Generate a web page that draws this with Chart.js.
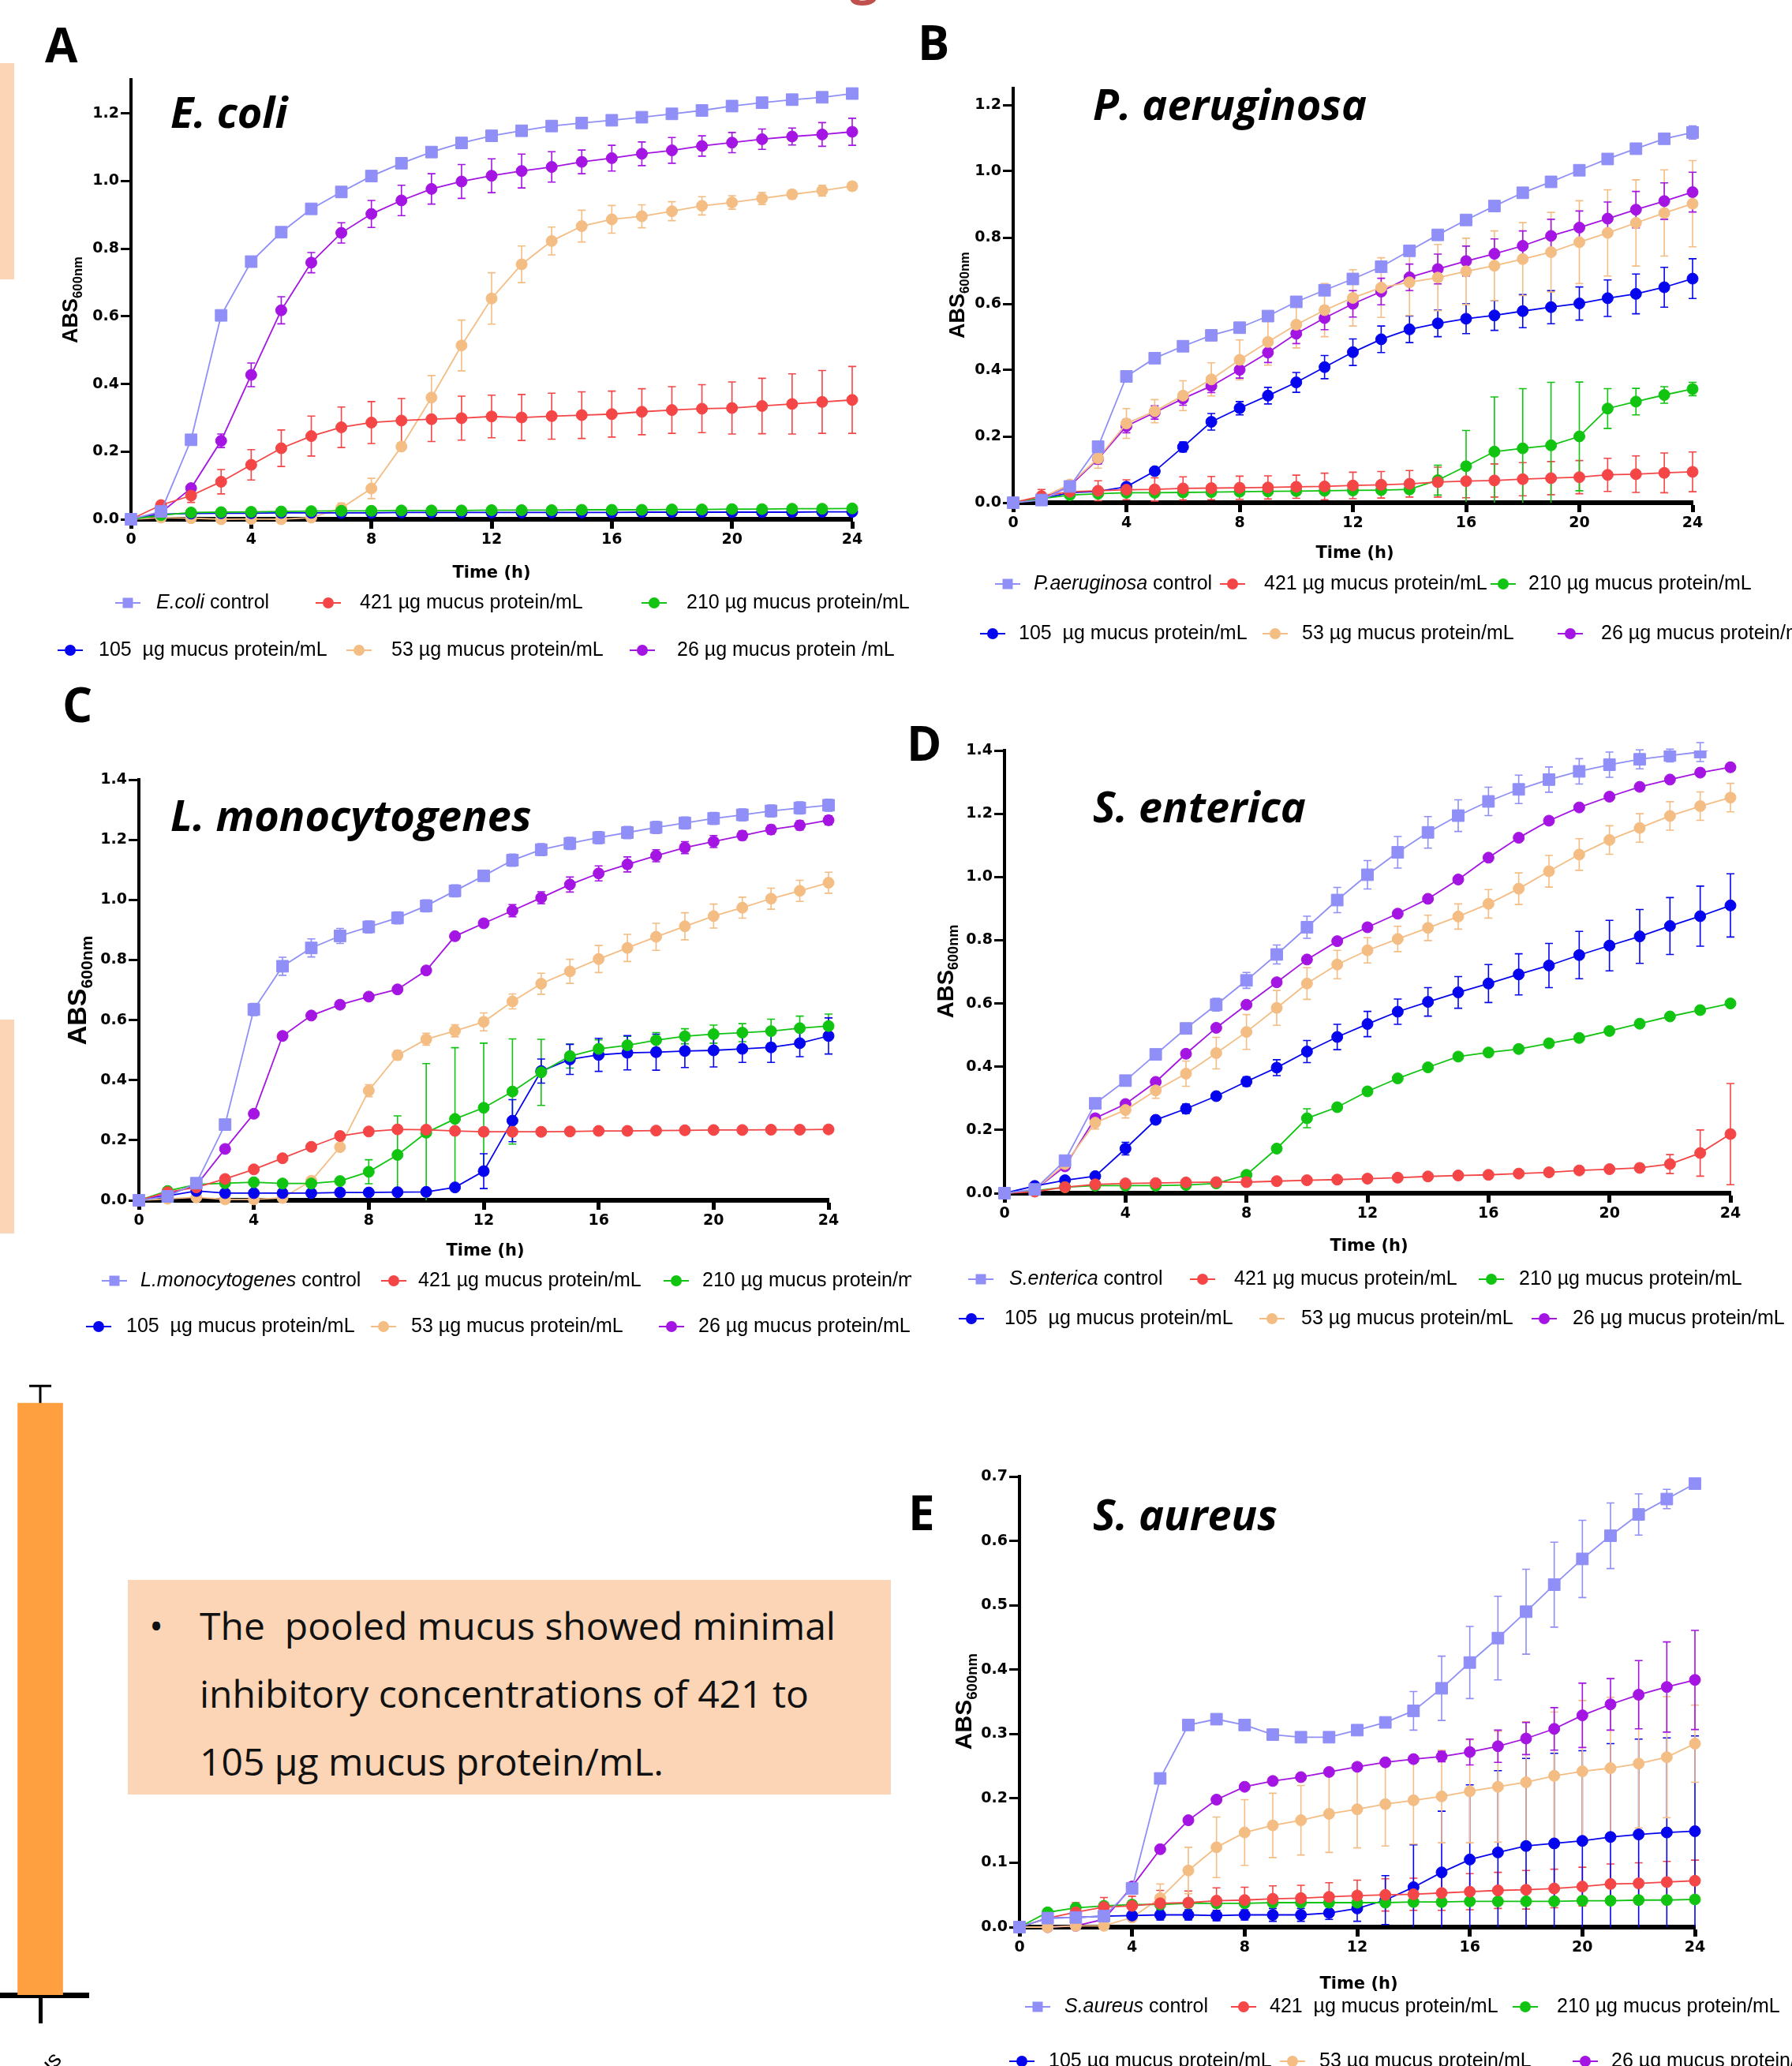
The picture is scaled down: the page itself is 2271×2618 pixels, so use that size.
<!DOCTYPE html>
<html>
<head>
<meta charset="utf-8">
<script src="https://cdn.jsdelivr.net/npm/chart.js"></script>
<style>
body{margin:0;width:2271px;height:2618px;position:relative;overflow:hidden;background:#fff;font-family:"Open Sans",sans-serif;}
canvas{position:absolute;}
.peach{position:absolute;background:#fbd5b5;}
#note{position:absolute;left:162px;top:2002px;width:967px;height:272px;background:#fbd5b5;}
#note div{position:absolute;font-size:48px;line-height:86px;white-space:pre;color:#111;}
#redg{position:absolute;left:1077px;top:-65px;font:bold 64px/64px "Open Sans",sans-serif;color:#c0504d;}
</style>
</head>
<body>
<div class="peach" style="left:0;top:80px;width:18px;height:274px"></div>
<div class="peach" style="left:0;top:1292px;width:18px;height:271px"></div>
<div id="redg">g</div>
<div id="note">
  <div style="left:27px;top:15px">•</div>
  <div style="left:91px;top:15px">The  pooled mucus showed minimal</div>
  <div style="left:91px;top:101px">inhibitory concentrations of 421 to</div>
  <div style="left:91px;top:187px">105 µg mucus protein/mL.</div>
</div>
<canvas id="cA"></canvas>
<canvas id="cB"></canvas>
<canvas id="cC"></canvas>
<canvas id="cD"></canvas>
<canvas id="cE"></canvas>
<canvas id="cBar"></canvas>
<script>
// time points (h)
const hours = [0,1,2,3,4,5,6,7,8,9,10,11,12,13,14,15,16,17,18,19,20,21,22,23,24];

// A: E. coli
const ecoliCtrl = [0,0.023,0.235,0.603,0.762,0.849,0.918,0.968,1.015,1.053,1.086,1.113,1.134,1.149,1.163,1.172,1.180,1.189,1.199,1.209,1.222,1.232,1.241,1.248,1.259];
const ecoliCtrlErr = [0,0,0.005,0.005,0.01,0.005,0.005,0.005,0.005,0.005,0.005,0.005,0.005,0.005,0.005,0.005,0.005,0.005,0.005,0.005,0.005,0.005,0.005,0.005,0.005];
const ecoli421 = [0,0.042,0.070,0.111,0.161,0.210,0.246,0.272,0.286,0.292,0.296,0.299,0.304,0.301,0.305,0.308,0.311,0.318,0.323,0.327,0.329,0.335,0.341,0.347,0.353];
const ecoli421Err = [0,0.005,0.02,0.036,0.045,0.054,0.059,0.06,0.062,0.065,0.066,0.065,0.063,0.068,0.068,0.069,0.068,0.068,0.069,0.071,0.077,0.082,0.089,0.093,0.099];
const ecoli210 = [0,0.012,0.020,0.021,0.022,0.023,0.024,0.025,0.025,0.026,0.026,0.026,0.027,0.027,0.027,0.028,0.028,0.028,0.029,0.029,0.030,0.030,0.031,0.031,0.032];
const ecoli105 = [0,0.015,0.017,0.018,0.018,0.019,0.019,0.019,0.019,0.020,0.020,0.020,0.020,0.020,0.020,0.020,0.020,0.021,0.021,0.021,0.021,0.021,0.021,0.022,0.022];
const ecoli53 = [0,0.005,0.003,0.000,0.001,0.000,0.005,0.033,0.091,0.215,0.360,0.514,0.653,0.754,0.823,0.867,0.887,0.896,0.911,0.927,0.937,0.949,0.961,0.972,0.985];
const ecoli53Err = [0,0,0,0,0,0,0.005,0.015,0.03,0.01,0.065,0.075,0.076,0.054,0.041,0.047,0.041,0.034,0.028,0.027,0.02,0.018,0.013,0.016,0.012];
const ecoli26 = [0,0.020,0.092,0.232,0.427,0.618,0.759,0.847,0.903,0.943,0.977,0.999,1.016,1.030,1.042,1.057,1.068,1.081,1.091,1.104,1.114,1.124,1.132,1.138,1.146];
const ecoli26Err = [0,0,0.01,0.02,0.035,0.04,0.03,0.03,0.04,0.045,0.045,0.05,0.05,0.05,0.045,0.035,0.038,0.035,0.038,0.03,0.03,0.03,0.025,0.035,0.04];

// B: P. aeruginosa
const paerCtrl = [0,0.008,0.049,0.169,0.381,0.436,0.472,0.505,0.528,0.563,0.606,0.641,0.675,0.712,0.760,0.808,0.853,0.895,0.935,0.968,1.003,1.037,1.068,1.098,1.117];
const paerCtrlErr = [0,0,0.005,0.01,0.005,0.005,0.005,0.005,0.005,0.005,0.005,0.005,0.005,0.005,0.005,0.005,0.005,0.005,0.005,0.005,0.005,0.005,0.005,0.01,0.02];
const paer421 = [0,0.020,0.033,0.036,0.039,0.040,0.043,0.044,0.045,0.046,0.048,0.049,0.052,0.054,0.057,0.062,0.065,0.067,0.071,0.074,0.077,0.084,0.086,0.090,0.093];
const paer421Err = [0,0.02,0.02,0.03,0.03,0.035,0.035,0.035,0.035,0.035,0.035,0.04,0.04,0.04,0.04,0.045,0.05,0.05,0.05,0.05,0.05,0.05,0.055,0.06,0.06];
const paer210 = [0,0.012,0.023,0.027,0.030,0.030,0.031,0.032,0.033,0.034,0.035,0.036,0.037,0.038,0.040,0.068,0.110,0.154,0.164,0.173,0.200,0.284,0.305,0.325,0.343];
const paer210Err = [0,0,0,0,0,0,0,0,0,0,0,0,0,0,0.005,0.045,0.108,0.165,0.18,0.19,0.164,0.06,0.04,0.025,0.02];
const paer105 = [0,0.012,0.030,0.034,0.048,0.095,0.168,0.244,0.285,0.323,0.363,0.409,0.454,0.493,0.523,0.541,0.555,0.565,0.578,0.590,0.601,0.617,0.630,0.650,0.676];
const paer105Err = [0,0,0,0,0.01,0.01,0.015,0.025,0.02,0.025,0.03,0.035,0.04,0.04,0.04,0.04,0.045,0.045,0.05,0.05,0.05,0.055,0.06,0.06,0.06];
const paer53 = [0,0.015,0.055,0.134,0.239,0.276,0.323,0.372,0.431,0.485,0.537,0.581,0.618,0.649,0.665,0.679,0.698,0.715,0.735,0.756,0.786,0.814,0.844,0.874,0.902];
const paer53Err = [0,0,0.01,0.03,0.045,0.035,0.045,0.05,0.06,0.07,0.07,0.08,0.085,0.09,0.1,0.1,0.1,0.105,0.11,0.12,0.125,0.13,0.13,0.13,0.13];
const paer26 = [0,0.012,0.050,0.132,0.231,0.272,0.314,0.352,0.401,0.453,0.510,0.557,0.600,0.637,0.680,0.705,0.729,0.751,0.775,0.805,0.830,0.857,0.884,0.910,0.937];
const paer26Err = [0,0,0.01,0.015,0.02,0.02,0.02,0.02,0.025,0.03,0.03,0.035,0.04,0.04,0.04,0.045,0.045,0.045,0.045,0.05,0.05,0.05,0.055,0.055,0.06];

// C: L. monocytogenes
const lmonoCtrl = [0,0.013,0.057,0.252,0.635,0.779,0.840,0.880,0.910,0.940,0.980,1.030,1.080,1.132,1.167,1.188,1.207,1.224,1.241,1.256,1.271,1.283,1.296,1.306,1.315];
const lmonoCtrlErr = [0,0,0.005,0.01,0.02,0.03,0.03,0.025,0.02,0.02,0.02,0.02,0.015,0.02,0.02,0.02,0.02,0.02,0.02,0.02,0.02,0.02,0.02,0.02,0.02];
const lmono421 = [0,0.027,0.043,0.071,0.103,0.140,0.178,0.214,0.229,0.236,0.235,0.231,0.228,0.228,0.228,0.229,0.231,0.231,0.232,0.233,0.234,0.234,0.235,0.235,0.236];
const lmono421Err = [0,0,0,0.005,0.005,0.005,0.005,0.005,0.008,0.01,0.008,0.005,0.005,0.005,0.005,0.005,0.005,0.005,0.005,0.005,0.005,0.005,0.005,0.005,0.005];
const lmono210 = [0,0.031,0.053,0.057,0.060,0.056,0.056,0.064,0.095,0.151,0.225,0.271,0.308,0.362,0.426,0.480,0.504,0.516,0.533,0.546,0.553,0.558,0.563,0.573,0.580];
const lmono210Err = [0,0,0,0,0,0,0,0.005,0.04,0.13,0.23,0.237,0.215,0.175,0.11,0.04,0.03,0.03,0.025,0.025,0.03,0.03,0.04,0.04,0.04];
const lmono105 = [0,0.015,0.031,0.024,0.024,0.024,0.024,0.026,0.026,0.027,0.028,0.043,0.097,0.265,0.430,0.469,0.484,0.491,0.493,0.497,0.499,0.504,0.509,0.523,0.547];
const lmono105Err = [0,0,0,0,0,0,0,0,0,0,0,0.005,0.058,0.07,0.04,0.05,0.055,0.057,0.06,0.055,0.055,0.045,0.05,0.045,0.06];
const lmono53 = [0,0.005,0.010,0.003,0.003,0.008,0.065,0.177,0.365,0.483,0.536,0.564,0.594,0.662,0.721,0.762,0.803,0.840,0.877,0.912,0.946,0.974,1.004,1.030,1.057];
const lmono53Err = [0,0,0,0,0,0,0.005,0.01,0.02,0.015,0.02,0.02,0.03,0.025,0.035,0.04,0.045,0.045,0.045,0.045,0.04,0.035,0.035,0.035,0.035];
const lmono26 = [0,0.020,0.050,0.171,0.288,0.547,0.615,0.651,0.678,0.702,0.765,0.879,0.922,0.964,1.007,1.051,1.088,1.118,1.147,1.174,1.194,1.214,1.234,1.248,1.265];
const lmono26Err = [0,0,0.005,0.01,0.01,0.01,0.01,0.01,0.01,0.01,0.01,0.01,0.01,0.02,0.02,0.025,0.025,0.025,0.02,0.02,0.02,0.015,0.015,0.015,0.015];

// D: S. enterica
const sentCtrl = [0,0.012,0.103,0.284,0.356,0.439,0.521,0.596,0.673,0.755,0.841,0.927,1.007,1.078,1.141,1.194,1.239,1.277,1.308,1.334,1.355,1.372,1.384,1.395,1.42];
const sentCtrlErr = [0,0,0.01,0.015,0.015,0.015,0.015,0.02,0.025,0.03,0.035,0.04,0.045,0.05,0.05,0.05,0.045,0.045,0.04,0.04,0.04,0.03,0.02,0.03,0];
const sent421 = [0,0.005,0.019,0.028,0.031,0.032,0.034,0.035,0.035,0.038,0.041,0.043,0.046,0.049,0.053,0.056,0.058,0.062,0.066,0.072,0.076,0.080,0.092,0.127,0.187];
const sent421Err = [0,0,0,0,0,0,0,0,0,0,0,0,0,0,0,0,0,0,0,0,0,0.005,0.03,0.073,0.16];
const sent210 = [0,0.008,0.019,0.024,0.024,0.024,0.026,0.031,0.058,0.141,0.237,0.272,0.322,0.363,0.398,0.432,0.445,0.456,0.474,0.491,0.513,0.536,0.559,0.579,0.600];
const sent210Err = [0,0,0,0,0,0,0,0,0,0,0.03,0.01,0.01,0.01,0.01,0.01,0.01,0.01,0.01,0.01,0.01,0.01,0.01,0.01,0.01];
const sent105 = [0,0.023,0.041,0.054,0.141,0.232,0.267,0.307,0.353,0.397,0.448,0.494,0.535,0.574,0.605,0.635,0.663,0.692,0.720,0.753,0.783,0.812,0.845,0.876,0.910];
const sent105Err = [0,0,0,0,0.02,0.01,0.015,0.01,0.015,0.025,0.035,0.04,0.04,0.04,0.045,0.05,0.06,0.065,0.07,0.075,0.08,0.085,0.09,0.095,0.1];
const sent53 = [0,0.010,0.092,0.223,0.263,0.325,0.378,0.443,0.510,0.586,0.663,0.723,0.768,0.804,0.839,0.875,0.915,0.963,1.018,1.071,1.117,1.155,1.193,1.224,1.251];
const sent53Err = [0,0,0.01,0.02,0.025,0.025,0.04,0.05,0.055,0.055,0.05,0.045,0.04,0.04,0.04,0.04,0.045,0.05,0.05,0.05,0.045,0.045,0.045,0.045,0.045];
const sent26 = [0,0.010,0.085,0.237,0.282,0.352,0.441,0.523,0.596,0.667,0.739,0.797,0.841,0.884,0.931,0.992,1.061,1.124,1.178,1.220,1.254,1.285,1.308,1.330,1.347];
const sent26Err = [0,0,0.01,0.01,0.01,0.01,0.01,0.01,0.01,0.01,0.01,0.01,0.01,0.01,0.01,0.01,0.01,0.01,0.01,0.01,0.01,0.01,0.01,0.01,0.01];

// E: S. aureus
const saurCtrl = [0,0.014,0.015,0.017,0.060,0.231,0.314,0.323,0.314,0.299,0.295,0.295,0.306,0.318,0.336,0.371,0.411,0.449,0.490,0.532,0.572,0.608,0.641,0.665,0.689];
const saurCtrlErr = [0,0,0,0,0.005,0.005,0.005,0.005,0.005,0.005,0.005,0.005,0.005,0.005,0.03,0.05,0.056,0.065,0.066,0.066,0.06,0.051,0.032,0.015,0.005];
const saur421 = [0,0.014,0.023,0.031,0.033,0.037,0.038,0.041,0.042,0.044,0.045,0.047,0.049,0.050,0.051,0.053,0.055,0.057,0.058,0.060,0.063,0.067,0.068,0.070,0.072];
const saur421Err = [0,0.005,0.015,0.015,0.015,0.02,0.018,0.02,0.02,0.02,0.02,0.022,0.024,0.025,0.025,0.027,0.028,0.028,0.03,0.03,0.03,0.031,0.032,0.032,0.032];
const saur210 = [0,0.023,0.030,0.033,0.035,0.035,0.037,0.037,0.037,0.038,0.038,0.038,0.038,0.038,0.039,0.039,0.040,0.040,0.040,0.040,0.041,0.041,0.042,0.042,0.043];
const saur210Err = [0,0.005,0.005,0.005,0.005,0.005,0.005,0.005,0.005,0.005,0.005,0.005,0.005,0.005,0.005,0.005,0.005,0.005,0.005,0.005,0.005,0.005,0.005,0.005,0.005];
const saur105 = [0,0.014,0.015,0.017,0.018,0.019,0.019,0.018,0.019,0.019,0.019,0.022,0.029,0.042,0.062,0.085,0.105,0.116,0.126,0.130,0.134,0.140,0.144,0.147,0.149];
const saur105Err = [0,0,0,0,0.005,0.008,0.008,0.008,0.008,0.01,0.01,0.01,0.02,0.038,0.066,0.095,0.116,0.127,0.136,0.14,0.14,0.145,0.148,0.147,0.148];
const saur53 = [0,0.000,0.002,0.002,0.015,0.045,0.088,0.124,0.147,0.158,0.166,0.176,0.183,0.191,0.197,0.203,0.211,0.218,0.225,0.235,0.242,0.247,0.254,0.264,0.285];
const saur53Err = [0,0,0,0,0.005,0.022,0.036,0.047,0.051,0.05,0.054,0.06,0.06,0.065,0.068,0.072,0.08,0.086,0.094,0.099,0.11,0.11,0.1,0.094,0.06];
const saur26 = [0,0.000,0.002,0.012,0.063,0.121,0.166,0.198,0.218,0.227,0.233,0.241,0.249,0.256,0.261,0.265,0.272,0.281,0.293,0.308,0.329,0.346,0.361,0.373,0.384];
const saur26Err = [0,0,0,0,0,0,0,0,0,0,0,0,0,0,0,0.008,0.02,0.025,0.025,0.033,0.05,0.04,0.053,0.07,0.077];

// pooled mucus bar fragment
const barLabels = ['Pooled mucus'];
const barValues = [1.0];
const barErr = [0.029];

// legend texts
const doseLabels = ['421 µg mucus protein/mL','210 µg mucus protein/mL','105  µg mucus protein/mL','53 µg mucus protein/mL','26 µg mucus protein/mL'];

const cCtrl = '#8f8ff7', c421 = '#f44646', c210 = '#12c412', c105 = '#0606ee', c53 = '#f4bd84', c26 = '#a414e2';
const tickFont = {family:'"DejaVu Sans", sans-serif', weight:'bold', size:19};
const legFont = '"Liberation Sans", Arial, sans-serif';
const YW = 90, XH = 50;

const errorBars = {
  id: 'errorBars',
  beforeDatasetsDraw(chart) {
    const ctx = chart.ctx, a = chart.chartArea, ys = chart.scales.y;
    ctx.save();
    ctx.beginPath();
    ctx.rect(a.left - 30, a.top - 30, a.right - a.left + 60, a.bottom - a.top + 30);
    ctx.clip();
    chart.data.datasets.forEach((ds, di) => {
      if (!ds.err) return;
      const meta = chart.getDatasetMeta(di);
      ctx.strokeStyle = ds.errColor || ds.borderColor;
      ctx.lineWidth = ds.errWidth || 1.6;
      meta.data.forEach((el, i) => {
        const e = ds.err[i];
        if (!e) return;
        const raw = ds.data[i];
        const v = typeof raw === 'object' ? raw.y : raw;
        const y1 = ys.getPixelForValue(v + e);
        const y2 = Math.min(ys.getPixelForValue(Math.max(v - e, 0)), a.bottom);
        const h = ds.capHalf || 5;
        ctx.beginPath();
        ctx.moveTo(el.x, y1); ctx.lineTo(el.x, y2);
        ctx.moveTo(el.x - h, y1); ctx.lineTo(el.x + h, y1);
        if (y2 < a.bottom - 1) { ctx.moveTo(el.x - h, y2); ctx.lineTo(el.x + h, y2); }
        ctx.stroke();
      });
    });
    ctx.restore();
  }
};

const annot = {
  id: 'annot',
  afterDraw(chart, args, o) {
    const ctx = chart.ctx;
    ctx.save();
    ctx.translate(-o.ox, -o.oy);
    (o.texts || []).forEach(t => {
      ctx.font = t.font;
      ctx.fillStyle = t.color || '#000';
      ctx.textAlign = t.align || 'left';
      ctx.textBaseline = t.base || 'alphabetic';
      ctx.fillText(t.t, t.x, t.y);
    });
    if (o.legend) {
      o.legend.items.forEach(it => {
        const ds = chart.data.datasets[it.ds];
        const y = o.legend.rows[it.row];
        ctx.strokeStyle = ds.borderColor;
        ctx.lineWidth = 2;
        ctx.beginPath(); ctx.moveTo(it.mx - 16, y); ctx.lineTo(it.mx + 16, y); ctx.stroke();
        ctx.fillStyle = ds.borderColor;
        if (ds.pointStyle === 'rect') ctx.fillRect(it.mx - 6.5, y - 6.5, 13, 13);
        else { ctx.beginPath(); ctx.arc(it.mx, y, 7, 0, Math.PI * 2); ctx.fill(); }
        ctx.fillStyle = '#000';
        ctx.textAlign = 'left';
        ctx.textBaseline = 'middle';
        let x = it.tx;
        if (it.it) {
          ctx.font = 'italic 25px ' + legFont;
          ctx.fillText(it.it, x, y);
          x += ctx.measureText(it.it).width;
        }
        ctx.font = '25px ' + legFont;
        ctx.fillText(it.label, x, y);
      });
    }
    if (o.yTitle) {
      const s = o.yTitle.size;
      const big = 'bold ' + s + 'px ' + legFont, small = 'bold ' + (s * 0.62).toFixed(1) + 'px ' + legFont;
      ctx.translate(o.yTitle.x, o.yTitle.y);
      ctx.rotate(-Math.PI / 2);
      ctx.fillStyle = '#000';
      ctx.textAlign = 'left';
      ctx.textBaseline = 'alphabetic';
      ctx.font = big;
      const w1 = ctx.measureText('ABS').width;
      ctx.font = small;
      const w2 = ctx.measureText('600nm').width;
      const x0 = -(w1 + w2) / 2;
      ctx.font = big; ctx.fillText('ABS', x0, 0.3 * s);
      ctx.font = small; ctx.fillText('600nm', x0 + w1, 0.52 * s);
    }
    ctx.restore();
  }
};

function series(vals, err, color, square, clip) {
  return {
    data: hours.map((h, i) => ({x: h, y: vals[i]})),
    err: err,
    borderColor: color,
    backgroundColor: color,
    pointBackgroundColor: color,
    pointBorderColor: color,
    pointStyle: square ? 'rect' : 'circle',
    pointRadius: square ? 10.5 : 7,
    pointBorderWidth: 1,
    borderWidth: 1.8,
    tension: 0,
    clip: clip === undefined ? false : clip
  };
}

function panel(id, box, area, yMax, yStep, datasets, extra) {
  const cv = document.getElementById(id);
  cv.width = box.w; cv.height = box.h;
  cv.style.left = box.x + 'px'; cv.style.top = box.y + 'px';
  extra.ox = box.x; extra.oy = box.y;
  return new Chart(cv, {
    type: 'line',
    data: {datasets: datasets},
    plugins: [errorBars, annot],
    options: {
      responsive: false, animation: false, devicePixelRatio: 1,
      layout: {autoPadding: false, padding: {
        left: area.l - box.x - YW, right: box.x + box.w - area.r,
        top: area.t - box.y, bottom: box.y + box.h - area.b - XH}},
      plugins: {legend: {display: false}, tooltip: {enabled: false}, annot: extra},
      scales: {
        x: {type: 'linear', min: 0, max: 24,
          border: {display: true, width: 6, color: '#000'},
          grid: {drawOnChartArea: false, drawTicks: true, tickLength: 12, tickWidth: 5, tickColor: '#000'},
          ticks: {stepSize: 4, padding: 3, color: '#000', font: tickFont, maxRotation: 0},
          afterFit: s => { s.height = XH; }},
        y: {min: 0, max: yMax,
          border: {display: true, width: 4, color: '#000'},
          grid: {drawOnChartArea: false, drawTicks: true, tickLength: 13, tickWidth: 3, tickColor: '#000'},
          ticks: {stepSize: yStep, includeBounds: false, padding: 2, color: '#000', font: tickFont, callback: v => v.toFixed(1)},
          afterBuildTicks: s => { s.ticks = s.ticks.filter(t => Math.abs(Math.round(t.value / yStep) * yStep - t.value) < 1e-6); },
          afterFit: s => { s.width = YW; }}
      }
    }
  });
}

function legendItems(pos, ctrlName, labels) {
  return pos.map((p, i) => i === 0
    ? {ds: 0, mx: p[0], tx: p[1], row: 0, it: ctrlName, label: ' control'}
    : {ds: i, mx: p[0], tx: p[1], row: i < 3 ? 0 : 1, label: labels[i - 1]});
}

const titleFont = 'italic bold 54px "Open Sans", sans-serif';
const letterFont = 'bold 60px "Open Sans", sans-serif';
const timeFont = 'bold 21px "DejaVu Sans", sans-serif';

panel('cA', {x: 0, y: 0, w: 1165, h: 860}, {l: 166, r: 1080, t: 101, b: 658}, 1.3, 0.2, [
  series(ecoliCtrl, ecoliCtrlErr, cCtrl, true),
  series(ecoli421, ecoli421Err, c421),
  series(ecoli210, null, c210),
  series(ecoli105, null, c105),
  series(ecoli53, ecoli53Err, c53),
  series(ecoli26, ecoli26Err, c26)
], {
  texts: [
    {t: 'A', x: 57, y: 79, font: letterFont},
    {t: 'E. coli', x: 216, y: 162, font: titleFont},
    {t: 'Time (h)', x: 623, y: 732, font: timeFont, align: 'center'}
  ],
  yTitle: {x: 90, y: 380, size: 27},
  legend: {rows: [764, 824], items: legendItems(
    [[162, 198], [416, 456], [829, 870], [89, 125], [455, 496], [814, 858]], 'E.coli',
    ['421 µg mucus protein/mL', '210 µg mucus protein/mL', '105  µg mucus protein/mL', '53 µg mucus protein/mL', '26 µg mucus protein /mL'])}
});

panel('cB', {x: 1150, y: 0, w: 1121, h: 860}, {l: 1284, r: 2145, t: 112, b: 637}, 1.25, 0.2, [
  series(paerCtrl, paerCtrlErr, cCtrl, true),
  series(paer421, paer421Err, c421),
  series(paer210, paer210Err, c210),
  series(paer105, paer105Err, c105),
  series(paer53, paer53Err, c53),
  series(paer26, paer26Err, c26)
], {
  texts: [
    {t: 'B', x: 1163, y: 76, font: letterFont},
    {t: 'P. aeruginosa', x: 1385, y: 152, font: titleFont},
    {t: 'Time (h)', x: 1717, y: 707, font: timeFont, align: 'center'}
  ],
  yTitle: {x: 1214, y: 374, size: 27},
  legend: {rows: [740, 803], items: legendItems(
    [[1277, 1310], [1562, 1602], [1905, 1937], [1258, 1291], [1616, 1650], [1990, 2029]], 'P.aeruginosa', doseLabels)}
});

panel('cC', {x: 0, y: 860, w: 1155, h: 860}, {l: 176, r: 1050, t: 988, b: 1521}, 1.4, 0.2, [
  series(lmonoCtrl, lmonoCtrlErr, cCtrl, true),
  series(lmono421, lmono421Err, c421),
  series(lmono210, lmono210Err, c210),
  series(lmono105, lmono105Err, c105),
  series(lmono53, lmono53Err, c53),
  series(lmono26, lmono26Err, c26)
], {
  texts: [
    {t: 'C', x: 79, y: 915, font: letterFont},
    {t: 'L. monocytogenes', x: 216, y: 1053, font: titleFont},
    {t: 'Time (h)', x: 615, y: 1591, font: timeFont, align: 'center'}
  ],
  yTitle: {x: 99, y: 1255, size: 34},
  legend: {rows: [1623, 1681], items: legendItems(
    [[145, 178], [499, 530], [857, 890], [125, 160], [486, 521], [851, 885]], 'L.monocytogenes', doseLabels)}
});

panel('cD', {x: 1150, y: 900, w: 1121, h: 800}, {l: 1273, r: 2193, t: 951, b: 1512}, 1.4, 0.2, [
  series(sentCtrl, sentCtrlErr, cCtrl, true, {left: 30, right: 30, top: 0, bottom: 30}),
  series(sent421, sent421Err, c421),
  series(sent210, sent210Err, c210),
  series(sent105, sent105Err, c105),
  series(sent53, sent53Err, c53),
  series(sent26, sent26Err, c26)
], {
  texts: [
    {t: 'D', x: 1149, y: 964, font: letterFont},
    {t: 'S. enterica', x: 1385, y: 1042, font: titleFont},
    {t: 'Time (h)', x: 1735, y: 1585, font: timeFont, align: 'center'}
  ],
  yTitle: {x: 1199, y: 1231, size: 29},
  legend: {rows: [1621, 1671], items: legendItems(
    [[1243, 1279], [1524, 1564], [1890, 1925], [1231, 1273], [1612, 1649], [1957, 1993]], 'S.enterica', doseLabels)}
});

panel('cE', {x: 1150, y: 1850, w: 1121, h: 768}, {l: 1292, r: 2148, t: 1871, b: 2442}, 0.7, 0.1, [
  series(saurCtrl, saurCtrlErr, cCtrl, true),
  series(saur421, saur421Err, c421),
  series(saur210, saur210Err, c210),
  series(saur105, saur105Err, c105),
  series(saur53, saur53Err, c53),
  series(saur26, saur26Err, c26)
], {
  texts: [
    {t: 'E', x: 1151, y: 1939, font: letterFont},
    {t: 'S. aureus', x: 1385, y: 1939, font: titleFont},
    {t: 'Time (h)', x: 1722, y: 2520, font: timeFont, align: 'center'}
  ],
  yTitle: {x: 1222, y: 2156, size: 30},
  legend: {rows: [2543, 2612], items: legendItems(
    [[1315, 1349], [1576, 1609], [1933, 1973], [1295, 1329], [1638, 1672], [2009, 2042]], 'S.aureus',
    ['421  µg mucus protein/mL', '210 µg mucus protein/mL', '105 µg mucus protein/mL', '53 µg mucus protein/mL', '26 µg mucus protein/mL'])}
});

// rotated category label under the bar, drawn by hand so it does not eat into the layout
const barLabel = {
  id: 'barLabel',
  afterDraw(chart) {
    const ctx = chart.ctx, xs = chart.scales.x;
    const x = xs.getPixelForTick(0);
    ctx.save();
    ctx.translate(x + 13, xs.top + 68);
    ctx.rotate(-Math.PI / 4);
    ctx.font = '28px ' + legFont;
    ctx.fillStyle = '#000';
    ctx.textAlign = 'right';
    ctx.textBaseline = 'top';
    ctx.fillText(chart.data.labels[0], 0, 0);
    ctx.restore();
  }
};

// bar fragment on the left edge
(function () {
  const cv = document.getElementById('cBar');
  const box = {x: -10, y: 1690, w: 140, h: 928};
  cv.width = box.w; cv.height = box.h;
  cv.style.left = box.x + 'px'; cv.style.top = box.y + 'px';
  new Chart(cv, {
    type: 'bar',
    data: {labels: barLabels, datasets: [{data: barValues, err: barErr, errColor: '#000', errWidth: 3, capHalf: 14,
      backgroundColor: '#ffa040', borderWidth: 0, barThickness: 57}]},
    plugins: [errorBars, barLabel],
    options: {
      responsive: false, animation: false, devicePixelRatio: 1,
      layout: {autoPadding: false, padding: {left: 0, right: 18, top: 13, bottom: 0}},
      plugins: {legend: {display: false}, tooltip: {enabled: false}},
      scales: {
        x: {border: {display: true, width: 7, color: '#000'},
          grid: {offset: false, drawOnChartArea: false, drawTicks: true, tickLength: 36, tickWidth: 5, tickColor: '#000'},
          ticks: {display: false},
          afterFit: s => { s.height = 90; }},
        y: {display: false, min: 0, max: 1.1}
      }
    }
  });
})();
</script>
</body>
</html>
